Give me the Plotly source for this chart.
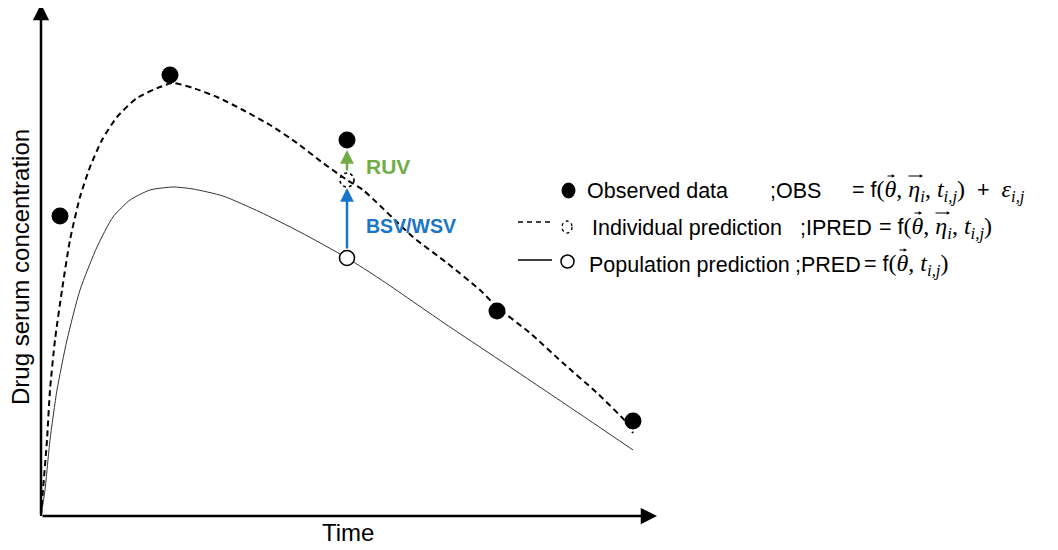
import plotly.graph_objects as go

# ---- data (time, concentration in arbitrary units) ----
ipred_time = [0, 2, 6, 9, 14, 21, 29, 39, 49, 61, 76, 96, 119, 132, 152, 176, 202, 229, 256, 282, 306, 322, 372, 406, 439, 456, 489, 522, 556, 586, 592]
ipred_conc = [0, 26, 76, 126, 176, 226, 276, 319, 349, 376, 399, 418, 429, 433, 428, 419, 406, 391, 373, 353, 336, 326, 279, 253, 226, 209, 183, 153, 123, 93, 83]

pred_time = [0, 4, 9, 16, 26, 39, 56, 72, 89, 109, 132, 152, 182, 219, 259, 306, 339, 406, 472, 539, 592]
pred_conc = [0, 26, 76, 126, 176, 226, 269, 299, 316, 326, 329, 327, 320, 304, 284, 258, 237, 191, 147, 102, 66]

obs_time = [19, 129, 306, 456, 592]
obs_conc = [300, 441, 376, 205, 95]

# highlighted subject sample
hl_time = 306
hl_pred = 258
hl_ipred = 336
hl_obs = 376

W, H = 1058, 550
OFF = 8           # page body margin
X0, Y0 = 41, 516  # reference pixel of the origin


def px(x):
    return (x - OFF) / W


def py(y):
    return 1 - (y - OFF) / H


fig = go.Figure()

fig.add_trace(go.Scatter(x=pred_time, y=pred_conc, mode="lines",
                         line=dict(color="#333333", width=1, shape="spline", smoothing=0.6),
                         hoverinfo="skip"))
fig.add_trace(go.Scatter(x=ipred_time, y=ipred_conc, mode="lines",
                         line=dict(color="black", width=2, dash="6px,4px", shape="spline", smoothing=0.6),
                         hoverinfo="skip"))
fig.add_trace(go.Scatter(x=obs_time, y=obs_conc, mode="markers",
                         marker=dict(color="black", size=17, line=dict(width=0)),
                         hoverinfo="skip"))
fig.add_trace(go.Scatter(x=[hl_time], y=[hl_pred], mode="markers",
                         marker=dict(color="white", size=15, line=dict(color="black", width=1.6)),
                         hoverinfo="skip"))

shapes = []
r = 7
shapes.append(dict(type="circle", xref="x", yref="y",
                   x0=hl_time - r, x1=hl_time + r, y0=hl_ipred - r, y1=hl_ipred + r,
                   line=dict(color="black", width=1.6, dash="3px,3px"), layer="above"))

ann = []
# axes arrows
ann.append(dict(x=616, y=0, ax=0, ay=0, xref="x", yref="y", axref="x", ayref="y",
                text="", showarrow=True, arrowhead=2, arrowsize=1.3, arrowwidth=2.5,
                arrowcolor="black", standoff=0, startstandoff=0))
ann.append(dict(x=0, y=512, ax=0, ay=0, xref="x", yref="y", axref="x", ayref="y",
                text="", showarrow=True, arrowhead=2, arrowsize=1.3, arrowwidth=2.5,
                arrowcolor="black", standoff=0, startstandoff=0))
# BSV/WSV arrow
ann.append(dict(x=hl_time, y=hl_ipred - 8, ax=hl_time, ay=hl_pred + 8, xref="x", yref="y",
                axref="x", ayref="y", text="", showarrow=True, arrowhead=2, arrowsize=1.1,
                arrowwidth=2.5, arrowcolor="#1a75c9", standoff=0))
# RUV arrow
ann.append(dict(x=hl_time, y=hl_obs - 10, ax=hl_time, ay=hl_ipred + 8, xref="x", yref="y",
                axref="x", ayref="y", text="", showarrow=True, arrowhead=2, arrowsize=1.1,
                arrowwidth=2.5, arrowcolor="#70ad47", standoff=0))
ann.append(dict(x=hl_time + 17, y=(hl_obs + hl_ipred) / 2 - 6, xref="x", yref="y", text="<b>RUV</b>",
                showarrow=False, xanchor="left", yanchor="middle",
                font=dict(family="Liberation Sans", size=21, color="#70ad47")))
ann.append(dict(x=hl_time + 17, y=(hl_pred + hl_ipred) / 2 - 7, xref="x", yref="y", text="<b>BSV/WSV</b>",
                showarrow=False, xanchor="left", yanchor="middle",
                font=dict(family="Liberation Sans", size=19.5, color="#1a75c9")))

# axis titles
ann.append(dict(x=px(348), y=py(532), xref="paper", yref="paper", text="Time", showarrow=False,
                xanchor="center", yanchor="middle",
                font=dict(family="Liberation Sans", size=24, color="black")))
ann.append(dict(x=px(20), y=py(267), xref="paper", yref="paper", text="Drug serum concentration",
                showarrow=False, textangle=-90, xanchor="center", yanchor="middle",
                font=dict(family="Liberation Sans", size=24, color="black")))

# legend
SANS = "Liberation Sans"
FS = 21.5
legend_labels = ["Observed data", "Individual prediction", "Population prediction"]
legend_codes = [";OBS", ";IPRED", ";PRED"]
row_y = [191, 228, 265]
label_x = [585, 590, 587]
code_x = [768, 798, 793]
eq_x = [850, 877, 862]


def ser(t, italic=True):
    st = "font-family:'Liberation Serif';font-size:24px"
    if italic:
        st += ";font-style:italic"
    return '<span style="%s">%s</span>' % (st, t)


eq_texts = [
    "= f" + ser("(", False) + ser("θ") + ser(", ", False) + ser("η<sub>i</sub>") + ser(", ", False)
    + ser("t<sub>i,j</sub>") + ser(")", False) + "  +  " + ser("ε<sub>i,j</sub>"),
    "= f" + ser("(", False) + ser("θ") + ser(", ", False) + ser("η<sub>i</sub>") + ser(", ", False)
    + ser("t<sub>i,j</sub>") + ser(")", False),
    "= f" + ser("(", False) + ser("θ") + ser(", ", False) + ser("t<sub>i,j</sub>") + ser(")", False),
]
has_eta = [True, True, False]

for lab, code, yy, lx, cx, ex, eq, eta in zip(legend_labels, legend_codes, row_y, label_x, code_x,
                                                eq_x, eq_texts, has_eta):
    ann.append(dict(x=px(lx), y=py(yy), xref="paper", yref="paper", text=lab, showarrow=False,
                    xanchor="left", yanchor="middle", font=dict(family=SANS, size=FS, color="black")))
    ann.append(dict(x=px(cx), y=py(yy), xref="paper", yref="paper", text=code, showarrow=False,
                    xanchor="left", yanchor="middle", font=dict(family=SANS, size=FS, color="black")))
    ann.append(dict(x=px(ex), y=py(yy), xref="paper", yref="paper", text=eq, showarrow=False,
                    xanchor="left", yanchor="middle", font=dict(family=SANS, size=FS, color="black")))
    # vector arrows over theta and eta
    ann.append(dict(x=px(ex + 45), y=py(yy - 15), xref="paper", yref="paper", text="",
                    showarrow=True, ax=-9, ay=0, arrowhead=2, arrowsize=0.6, arrowwidth=1.1,
                    arrowcolor="black", standoff=0))
    if eta:
        ann.append(dict(x=px(ex + 73), y=py(yy - 15), xref="paper", yref="paper", text="",
                        showarrow=True, ax=-16, ay=0, arrowhead=2, arrowsize=0.6, arrowwidth=1.1,
                        arrowcolor="black", standoff=0))

# legend symbols
shapes.append(dict(type="circle", xref="paper", yref="paper",
                   x0=px(562), x1=px(575), y0=py(183), y1=py(198),
                   fillcolor="black", line=dict(color="black", width=1)))
shapes.append(dict(type="line", xref="paper", yref="paper", x0=px(518), x1=px(550), y0=py(222), y1=py(222),
                   line=dict(color="black", width=1.5, dash="5px,4px")))
shapes.append(dict(type="circle", xref="paper", yref="paper",
                   x0=px(562), x1=px(572), y0=py(221), y1=py(233),
                   line=dict(color="black", width=1.3, dash="3px,3px")))
shapes.append(dict(type="line", xref="paper", yref="paper", x0=px(518), x1=px(552), y0=py(260), y1=py(260),
                   line=dict(color="black", width=1.3)))
shapes.append(dict(type="circle", xref="paper", yref="paper",
                   x0=px(561), x1=px(574), y0=py(255), y1=py(268),
                   line=dict(color="black", width=1.5)))

fig.update_layout(
    width=W, height=H, margin=dict(l=0, r=0, t=0, b=0),
    paper_bgcolor="white", plot_bgcolor="white", showlegend=False,
    xaxis=dict(range=[-(X0 - OFF), W - (X0 - OFF)], visible=False, fixedrange=True),
    yaxis=dict(range=[(Y0 - OFF) - H, Y0 - OFF], visible=False, fixedrange=True),
    shapes=shapes, annotations=ann,
)

fig.write_html("out.html")
